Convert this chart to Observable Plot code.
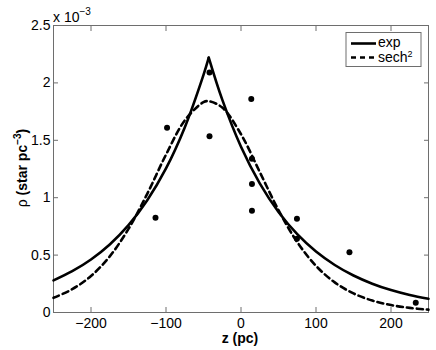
<!DOCTYPE html>
<html>
<head>
<meta charset="utf-8">
<script src="https://cdn.jsdelivr.net/npm/d3@7"></script>
<script src="https://cdn.jsdelivr.net/npm/@observablehq/plot@0.6"></script>
<style>
  html, body { margin: 0; padding: 0; background: #fff; }
  #chart { position: relative; width: 436px; height: 350px; }
</style>
</head>
<body>
<div id="chart"></div>
<script>
// Tick labels
const zTicks = [-200, -100, 0, 100, 200];
const rhoTicks = [0, 0.5, 1, 1.5, 2, 2.5];

// Observed densities (units of 1e-3 star pc^-3)
const obsZ =   [-114, -98.6, -42, -42, 13.7, 14.6, 14.6, 14.6, 74.6, 74.6, 144.6, 233];
const obsRho = [0.825, 1.61, 2.09, 1.535, 1.86, 1.34, 1.12, 0.886, 0.816, 0.642, 0.525, 0.085];

// Fitted curves
const fitZ =     [-250, -225, -200, -175, -150, -125, -100, -75, -50, -43, -25, 0, 25, 50, 75, 100, 125, 150, 175, 200, 225, 250];
const expRho =   [0.280, 0.360, 0.462, 0.593, 0.761, 0.978, 1.255, 1.612, 2.070, 2.220, 1.854, 1.444, 1.125, 0.876, 0.682, 0.531, 0.414, 0.322, 0.251, 0.195, 0.152, 0.119];
const sechRho =  [0.128, 0.203, 0.318, 0.489, 0.728, 1.034, 1.375, 1.673, 1.832, 1.840, 1.785, 1.553, 1.224, 0.892, 0.613, 0.406, 0.262, 0.166, 0.104, 0.065, 0.040, 0.025];
const peakZ = -43;

const obs = obsZ.map((z, i) => ({z, rho: obsRho[i]}));
const expRows = [];
fitZ.forEach((z, i) => {
  if (z <= peakZ) expRows.push({z, rho: expRho[i], side: "L"});
  if (z >= peakZ) expRows.push({z, rho: expRho[i], side: "R"});
});
const sechRows = fitZ.map((z, i) => ({z, rho: sechRho[i]}));

const axisGray = "#6e6e6e";
const font = "'Liberation Sans', Arial, Helvetica, sans-serif";
const fmt = d => String(d).replace("-", "\u2212");

const chart = Plot.plot({
  width: 436,
  height: 350,
  marginLeft: 53,
  marginRight: 8,
  marginTop: 25,
  marginBottom: 38,
  style: {fontFamily: font, fontSize: "14px", background: "#fff", color: "#000"},
  x: {domain: [-250, 250]},
  y: {domain: [0, 2.5]},
  marks: [
    Plot.frame({stroke: axisGray}),
    Plot.axisX({ticks: zTicks, anchor: "bottom", tickSize: -5, tickPadding: 11, tickFormat: fmt, stroke: axisGray, fill: "#000", label: null, fontSize: 14}),
    Plot.axisX({ticks: zTicks, anchor: "top", tickSize: -5, stroke: axisGray, tickFormat: () => "", label: null}),
    Plot.axisY({ticks: rhoTicks, anchor: "left", tickSize: -5, tickPadding: 8, tickFormat: fmt, stroke: axisGray, fill: "#000", label: null, fontSize: 14}),
    Plot.axisY({ticks: rhoTicks, anchor: "right", tickSize: -5, stroke: axisGray, tickFormat: () => "", label: null}),
    Plot.line(expRows, {x: "z", y: "rho", z: "side", curve: "catmull-rom", stroke: "#000", strokeWidth: 2.6}),
    Plot.line(sechRows, {x: "z", y: "rho", curve: "catmull-rom", stroke: "#000", strokeWidth: 2.6, strokeDasharray: "6,4"}),
    Plot.dot(obs, {x: "z", y: "rho", r: 3, fill: "#000", stroke: null})
  ]
});

document.getElementById("chart").appendChild(chart);

// Annotations: axis titles, exponent and legend
const svg = d3.select(chart);
const g = svg.append("g").attr("font-family", font).attr("fill", "#000").attr("text-anchor", "start");

// x axis title
g.append("text").attr("x", 240).attr("y", 343).attr("text-anchor", "middle")
  .attr("font-size", 14).attr("font-weight", "bold").text("z (pc)");

// y axis title
const yt = g.append("text").attr("transform", "translate(27,168) rotate(-90)")
  .attr("text-anchor", "middle").attr("font-size", 14).attr("font-weight", "bold");
yt.append("tspan").attr("font-weight", "normal").text("\u03C1");
yt.append("tspan").text(" (star pc");
yt.append("tspan").attr("dy", -6).attr("font-size", 10).text("\u22123");
yt.append("tspan").attr("dy", 6).text(")");

// exponent
const ex = g.append("text").attr("x", 53).attr("y", 22).attr("font-size", 14);
ex.append("tspan").text("x 10");
ex.append("tspan").attr("dy", -7).attr("font-size", 10).text("\u22123");

// legend
const lg = g.append("g");
lg.append("rect").attr("x", 346).attr("y", 32.5).attr("width", 75).attr("height", 34)
  .attr("fill", "#fff").attr("stroke", axisGray).attr("stroke-width", 1);
lg.append("line").attr("x1", 351).attr("x2", 376).attr("y1", 43.5).attr("y2", 43.5)
  .attr("stroke", "#000").attr("stroke-width", 2.6);
lg.append("line").attr("x1", 351).attr("x2", 376).attr("y1", 57.5).attr("y2", 57.5)
  .attr("stroke", "#000").attr("stroke-width", 2.6).attr("stroke-dasharray", "5,4");
lg.append("text").attr("x", 378).attr("y", 47).attr("font-size", 14).text("exp");
const st = lg.append("text").attr("x", 378).attr("y", 62).attr("font-size", 14);
st.append("tspan").text("sech");
st.append("tspan").attr("dy", -5).attr("font-size", 9).text("2");
</script>
</body>
</html>
